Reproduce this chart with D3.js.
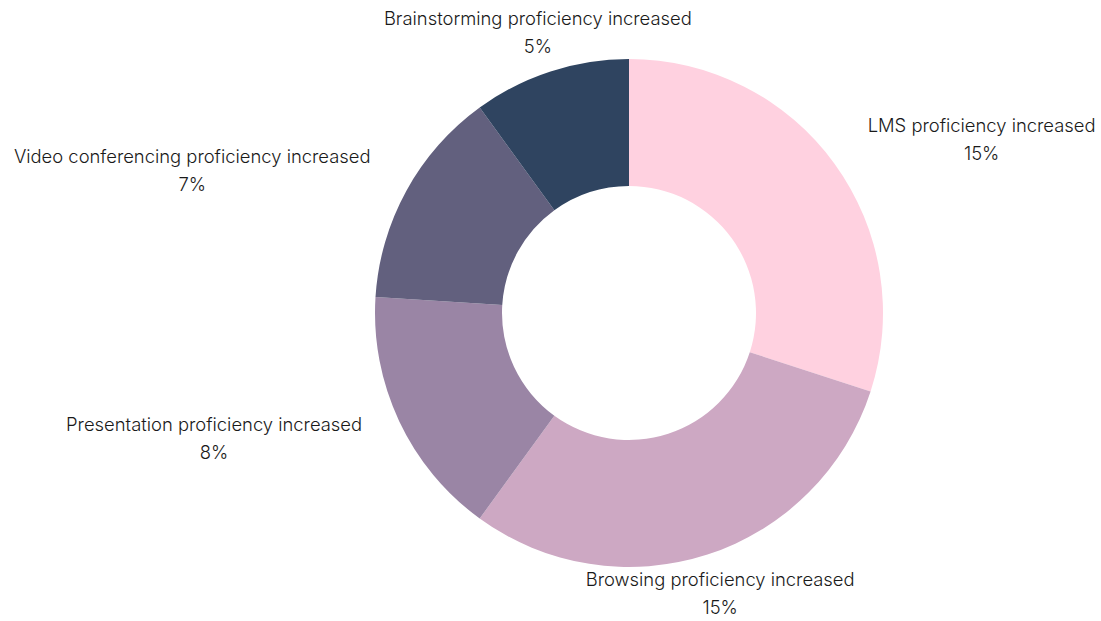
<!DOCTYPE html>
<html><head><meta charset="utf-8">
<script src="https://cdn.jsdelivr.net/npm/d3@7"></script>
<style>body{margin:0;background:#fff}svg{display:block}</style>
</head><body>
<svg id="c" width="1101" height="621"></svg>
<script>
const categories = ["LMS proficiency increased","Browsing proficiency increased","Presentation proficiency increased","Video conferencing proficiency increased","Brainstorming proficiency increased"];
const values = [15, 15, 8, 7, 5];
const colors = ["#FFD1E0","#CDA8C3","#9A85A5","#62607E","#2F4460"];

const W = 1101, H = 621, cx = 629, cy = 313, rOuter = 254, rInner = 127, rLabel = 295;
const svg = d3.select("#c");
const g = svg.append("g").attr("transform", `translate(${cx},${cy})`);
const data = categories.map((c,i)=>({name:c, value:values[i], color:colors[i]}));
const pie = d3.pie().value(d=>d.value).sort(null);
const arc = d3.arc().innerRadius(rInner).outerRadius(rOuter);
const arcs = pie(data);
g.selectAll("path").data(arcs).join("path").attr("d", arc).attr("fill", d=>d.data.color);

const font = "Inter, 'Noto Sans', sans-serif";
const fs = 18.4, fw = 300;
arcs.forEach(a=>{
  const mid = (a.startAngle + a.endAngle)/2;
  const x = rLabel*Math.sin(mid), y = -rLabel*Math.cos(mid);
  const s = Math.sin(mid);
  const lines = [a.data.name, a.data.value + "%"];
  const t = g.append("text").attr("font-family", font).attr("font-size", fs).attr("font-weight", fw).attr("fill", "#1a1a1a");
  const tmp = g.append("text").attr("font-family", font).attr("font-size", fs).attr("font-weight", fw).text(lines[0]);
  const w = tmp.node().getComputedTextLength(); tmp.remove();
  let bx;
  if (Math.abs(s) < 0.5) bx = x; else if (s > 0) bx = x + w/2; else bx = x - w/2;
  lines.forEach((ln,i)=>{
    t.append("tspan").attr("x", bx).attr("y", y + (i - 0.5)*28).attr("dy","0.35em").attr("text-anchor","middle").text(ln);
  });
});
</script>
</body></html>
